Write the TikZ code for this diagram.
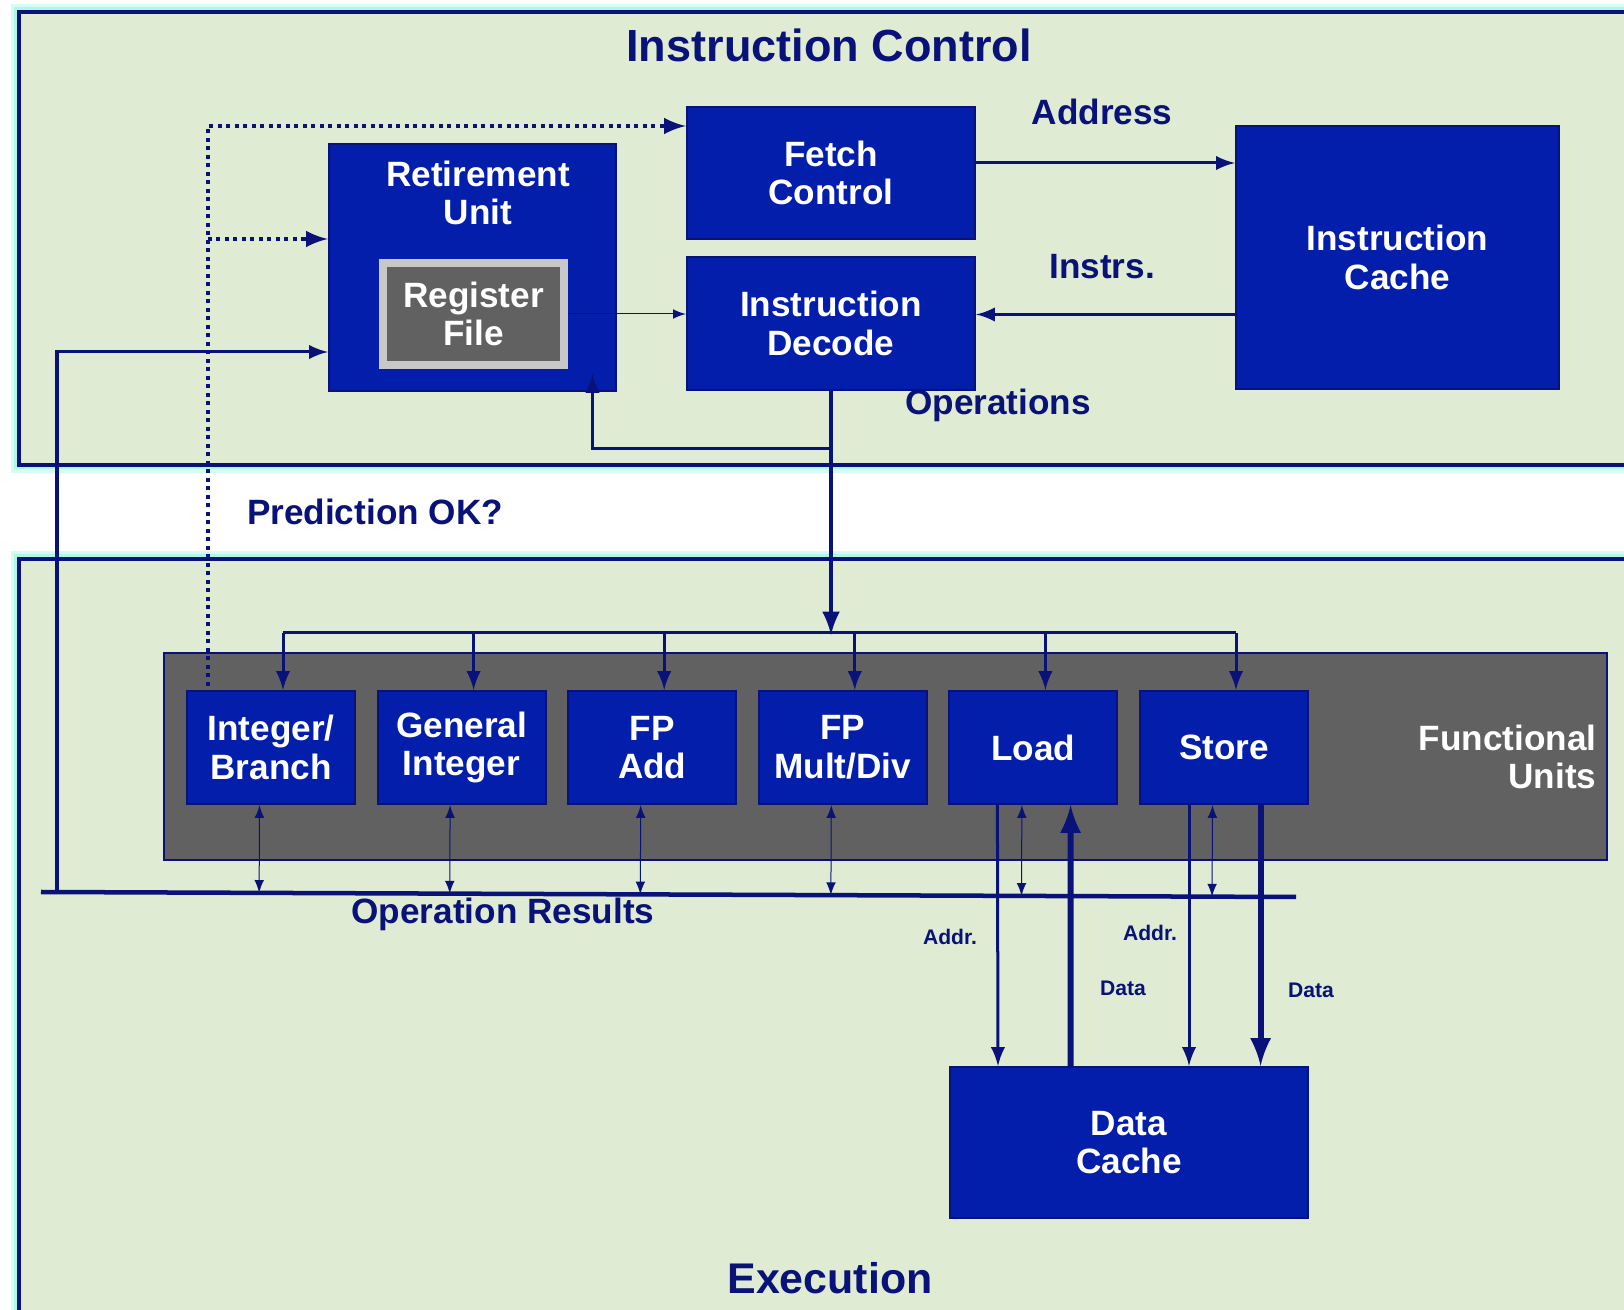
\documentclass[tikz,border=0pt]{standalone}
\usepackage{fontspec}
\setmainfont{Liberation Sans}
\usepackage{tikz}
\usetikzlibrary{calc,positioning,arrows}
\definecolor{navy}{RGB}{8,18,120}
\definecolor{boxblue}{RGB}{2,30,170}
\definecolor{paleg}{RGB}{224,235,211}
\definecolor{glow}{RGB}{140,245,220}
\definecolor{fugrey}{RGB}{97,97,97}
\definecolor{rfedge}{RGB}{200,200,200}

\begin{document}
\begin{tikzpicture}[x=0.01cm,y=-0.01cm]
\tikzstyle{blk}=[draw=navy,line width=0.02cm,fill=boxblue,text=white,align=center,font=\fontsize{10}{11}\selectfont\bfseries,inner sep=0pt]
\tikzstyle{unit}=[blk,minimum width=1.68cm,minimum height=1.13cm]
\tikzstyle{lbl}=[text=navy,align=center,font=\fontsize{10}{11}\selectfont\bfseries,inner sep=0pt]
\tikzstyle{small}=[text=navy,font=\fontsize{6}{7}\selectfont\bfseries,inner sep=0pt]
\tikzstyle{region}=[draw=navy,line width=0.04cm,fill=paleg]
\tikzstyle{bus}=[navy,line width=0.03cm]
\tikzstyle{thinbus}=[navy,line width=0.01cm]
\tikzstyle{dots}=[navy,line width=0.04cm,dash pattern=on 0.04cm off 0.045cm]

\useasboundingbox (0,0) rectangle (1624,1310);
\clip (0,0) rectangle (1624,1310);
\fill[white] (0,0) rectangle (1624,1310);

% regions
\draw[glow!35,line width=0.16cm] (19,12) rectangle (1680,465);
\draw[glow!70,line width=0.09cm] (19,12) rectangle (1680,465);
\draw[region] (19,12) rectangle (1680,465);
\draw[glow!35,line width=0.16cm] (19,559) rectangle (1680,1380);
\draw[glow!70,line width=0.09cm] (19,559) rectangle (1680,1380);
\draw[region] (19,559) rectangle (1680,1380);

\node[lbl,font=\fontsize{12.8}{14}\selectfont\bfseries,anchor=base] (ictitle) at (829,62) {Instruction Control};
\node[lbl,font=\fontsize{12.2}{14}\selectfont\bfseries,anchor=base] (extitle) at (830,1293) {Execution};

% instruction control
\node[blk,minimum width=2.88cm,minimum height=1.32cm] (fetch) at (831,173) {Fetch\\Control};
\node[blk,minimum width=2.88cm,minimum height=1.33cm] (decode) at (831,323.5) {Instruction\\Decode};
\node[blk,minimum width=3.23cm,minimum height=2.63cm] (icache) at (1397.5,257.5) {Instruction\\Cache};
\node[blk,minimum width=2.87cm,minimum height=2.47cm] (retire) at (472.5,267.5) {};
\node[lbl,text=white] (retiretxt) at (478,193) {Retirement\\Unit};
\node[blk,draw=rfedge,line width=0.08cm,fill=fugrey,minimum width=1.81cm,minimum height=1.02cm] (regfile) at (473.5,314) {Register\\File};

\node[lbl] (addrlbl) at (1102,112) {Address};
\node[lbl] (instrlbl) at (1102,267) {Instrs.};
\node[lbl] (opslbl) at (998,405) {Operations};
\node[lbl] (predlbl) at (375,512) {Prediction OK?};

% execution
\node[draw=navy,line width=0.02cm,fill=fugrey,minimum width=14.43cm,minimum height=2.07cm] (fu) at (885.5,756.5) {};
\node[lbl,text=white,align=right,anchor=east] (futxt) at (1597,757) {Functional\\Units};

\node[unit] (u1) at (271,747.5) {Integer/\\Branch};
\node[unit] (u2) at (461.6,747.5) {General\\Integer};
\node[unit] (u3) at (652.2,747.5) {FP\\Add};
\node[unit] (u4) at (842.8,747.5) {FP\\Mult/Div};
\node[unit] (u5) at (1033.4,747.5) {Load};
\node[unit] (u6) at (1224,747.5) {Store};

\node[blk,minimum width=3.58cm,minimum height=1.51cm] (dcache) at (1129,1142.5) {Data\\Cache};

\node[lbl] (reslbl) at (503,914) {Operation Results};
\node[small] (la) at (950,937) {Addr.};
\node[small] (ld) at (1123,988) {Data};
\node[small] (sa) at (1150,933) {Addr.};
\node[small] (sd) at (1311,990) {Data};

% instruction fetch and decode
\draw[->,>=latex,bus] ($(fetch.east)+(0,-10)$) coordinate (addr) -- (addr -| icache.west);
\coordinate (instr) at ($(decode.east)+(0,-9)$);
\draw[->,>=latex,bus] (instr -| icache.west) -- (instr);
\draw[->,>=latex,thinbus] (regfile.east) -- (regfile.east -| decode.west);

% operations
\coordinate (opsbus) at ($(decode.south)+(0,244)$);
\coordinate (opsplit) at ($(decode.south)+(0,57)$);
\draw[->,>=latex,navy,line width=0.045cm] (decode.south) -- (opsbus);
\draw[->,>=latex,bus] (opsplit) -| ($(retire.south)+(120,-18)$);
\draw[bus] ($(u1.north)+(12,-57)$) -- ($(u6.north)+(12,-57)$);
\draw[->,>=latex,bus] ($(u1.north)+(12,-57)$) -- ($(u1.north)+(12,0)$);
\draw[->,>=latex,bus] ($(u2.north)+(12,-57)$) -- ($(u2.north)+(12,0)$);
\draw[->,>=latex,bus] ($(u3.north)+(12,-57)$) -- ($(u3.north)+(12,0)$);
\draw[->,>=latex,bus] ($(u4.north)+(12,-57)$) -- ($(u4.north)+(12,0)$);
\draw[->,>=latex,bus] ($(u5.north)+(12,-57)$) -- ($(u5.north)+(12,0)$);
\draw[->,>=latex,bus] ($(u6.north)+(12,-57)$) -- ($(u6.north)+(12,0)$);

% operation results
\coordinate (resl) at (41,892);
\coordinate (resr) at (1296,897);
\coordinate (fb) at (57,892);
\draw[navy,line width=0.045cm] (resl) -- (resr);
\draw[->,>=latex,bus] (fb) |- ($(retire.west)+(0,84.5)$);
\coordinate (b1) at ($(u1.south)+(-11.5,0)$);
\coordinate (b2) at ($(u2.south)+(-11.5,0)$);
\coordinate (b3) at ($(u3.south)+(-11.5,0)$);
\coordinate (b4) at ($(u4.south)+(-11.5,0)$);
\coordinate (b5) at ($(u5.south)+(-11.5,0)$);
\coordinate (b6) at ($(u6.south)+(-11.5,0)$);
\draw[<->,>=latex,thinbus] (b1) -- ($(resl)!(b1)!(resr)$);
\draw[<->,>=latex,thinbus] (b2) -- ($(resl)!(b2)!(resr)$);
\draw[<->,>=latex,thinbus] (b3) -- ($(resl)!(b3)!(resr)$);
\draw[<->,>=latex,thinbus] (b4) -- ($(resl)!(b4)!(resr)$);
\draw[<->,>=latex,thinbus] (b5) -- ($(resl)!(b5)!(resr)$);
\draw[<->,>=latex,thinbus] (b6) -- ($(resl)!(b6)!(resr)$);

% data cache
\draw[->,>=latex,bus] ($(u5.south)+(-36,0)$) -- ($(dcache.north)+(-131,0)$);
\draw[->,>=latex,navy,line width=0.06cm] ($(dcache.north)+(-58.4,0)$) -- ($(u5.south)+(37.2,0)$);
\draw[->,>=latex,bus] ($(u6.south)+(-35,0)$) -- ($(dcache.north)+(60,0)$);
\draw[->,>=latex,navy,line width=0.06cm] ($(u6.south)+(36.6,0)$) -- ($(dcache.north)+(131.6,0)$);

% branch prediction
\coordinate (pred) at ($(u1.north west)+(22,-4)$);
\coordinate (rtin) at ($(retire.west)+(0,-28.5)$);
\draw[->,>=latex,dots] (pred) |- ($(fetch.west)+(0,-47)$);
\draw[->,>=latex,dots] (pred |- rtin) -- (rtin);
\end{tikzpicture}
\end{document}
